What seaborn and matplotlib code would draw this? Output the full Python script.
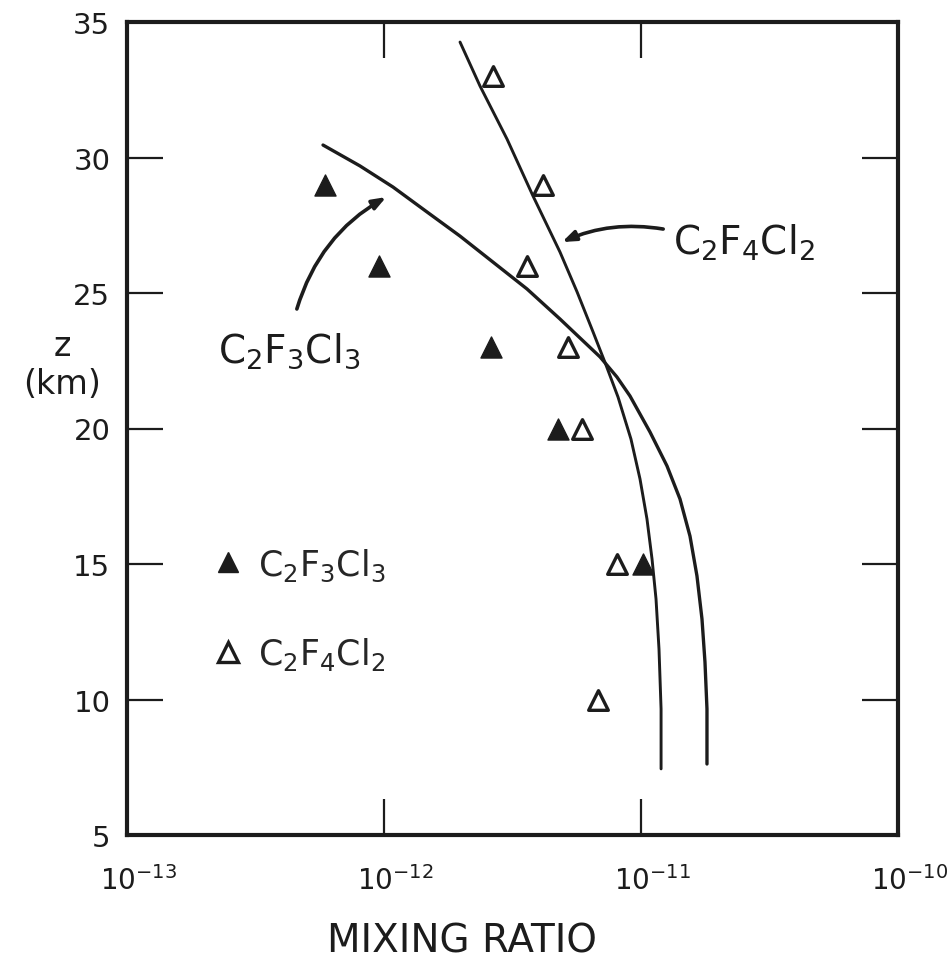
import pandas as pd
import seaborn as sns
import matplotlib.pyplot as plt
from matplotlib.lines import Line2D
from matplotlib.ticker import FixedLocator, NullLocator
from matplotlib.transforms import ScaledTranslation

sns.set_style('ticks')
plt.rcParams['font.family'] = ['DejaVu Sans']
plt.rcParams['mathtext.fontset'] = 'dejavusans'

ink = '#1c1c1c'

# model profiles (altitude km, mixing ratio)
c2f3cl3_z = [30.46, 29.69, 28.91, 27.99, 27.10, 26.14, 25.15, 24.04, 23.34, 22.64, 21.90,
             21.20, 19.87, 18.62, 17.40, 16.03, 14.56, 12.97, 11.38, 9.65, 7.62]
c2f3cl3_mr = [5.79e-13, 8.06e-13, 1.084e-12, 1.47e-12, 1.976e-12, 2.655e-12, 3.60e-12,
              4.84e-12, 5.79e-12, 6.93e-12, 8.06e-12, 9.06e-12, 1.084e-11, 1.262e-11,
              1.418e-11, 1.551e-11, 1.651e-11, 1.727e-11, 1.774e-11, 1.806e-11, 1.806e-11]
c2f4cl2_z = [34.26, 32.64, 30.68, 28.58, 26.51, 25.04, 23.56, 22.34, 21.16, 19.61, 18.14,
             16.66, 15.18, 13.71, 11.86, 9.65, 7.44]
c2f4cl2_mr = [1.976e-12, 2.363e-12, 3.011e-12, 3.80e-12, 4.84e-12, 5.64e-12, 6.51e-12,
              7.31e-12, 8.14e-12, 9.14e-12, 9.91e-12, 1.055e-11, 1.104e-11, 1.144e-11,
              1.175e-11, 1.197e-11, 1.197e-11]

# measured points
obs_c2f3cl3_z = [29, 26, 23, 20, 15]
obs_c2f3cl3_mr = [5.9e-13, 9.6e-13, 2.6e-12, 4.75e-12, 1.02e-11]
obs_c2f4cl2_z = [33, 29, 26, 23, 20, 15, 10]
obs_c2f4cl2_mr = [2.65e-12, 4.15e-12, 3.6e-12, 5.2e-12, 5.9e-12, 8.05e-12, 6.8e-12]

x_ticks = [1e-13, 1e-12, 1e-11, 1e-10]
x_ticklabels = [r'$10^{-13}$', r'$10^{-12}$', r'$10^{-11}$', r'$10^{-10}$']
y_ticks = [5, 10, 15, 20, 25, 30, 35]

lbl_113 = r'C$_2$F$_3$Cl$_3$'
lbl_114 = r'C$_2$F$_4$Cl$_2$'

fig = plt.figure(figsize=(9.51, 9.62), dpi=100)
ax = fig.add_axes([127 / 951, 1 - 836 / 962, 771 / 951, 813 / 962])
ax.set_xscale('log')

# curves
sns.lineplot(x=c2f3cl3_mr, y=c2f3cl3_z, sort=False, estimator=None, orient='y',
             color=ink, lw=2.4, ax=ax)
sns.lineplot(x=c2f4cl2_mr, y=c2f4cl2_z, sort=False, estimator=None, orient='y',
             color=ink, lw=2.1, ax=ax)

# data points
sns.scatterplot(x=obs_c2f3cl3_mr, y=obs_c2f3cl3_z, marker='^', s=230,
                color=ink, edgecolor=ink, linewidth=1, zorder=5, ax=ax)
sns.scatterplot(x=obs_c2f4cl2_mr, y=obs_c2f4cl2_z, marker='^', s=200,
                facecolor='white', edgecolor=ink, linewidth=2.4, zorder=5, ax=ax)

ax.set_xlim(1e-13, 1e-10)
ax.set_ylim(5, 35)
ax.xaxis.set_major_locator(FixedLocator(x_ticks))
ax.xaxis.set_minor_locator(NullLocator())
ax.set_xticklabels(x_ticklabels)
ax.set_yticks(y_ticks)

for sp in ax.spines.values():
    sp.set_visible(True)
    sp.set_linewidth(3)
    sp.set_color(ink)

ax.tick_params(axis='both', which='major', direction='in', length=26, width=1.6,
               top=True, right=True, labelsize=21, color=ink, labelcolor=ink)
ax.tick_params(axis='x', pad=22, labelsize=20)
ax.tick_params(axis='y', pad=12)
for lab in ax.get_xticklabels():
    lab.set_transform(lab.get_transform() + ScaledTranslation(8 / 72, 0, fig.dpi_scale_trans))

ax.set_xlabel('MIXING RATIO', fontsize=28, color=ink, va='baseline')
ax.xaxis.set_label_coords(0.434, -0.143)
ax.set_ylabel('z\n(km)', fontsize=24, rotation=0, ha='center', va='center',
              color=ink, linespacing=1.2)
ax.yaxis.set_label_coords(-0.084, 0.579)

# labels with arrows
ax.text(2.26e-13, 22.45, lbl_113, fontsize=28, ha='left', va='baseline', color=ink)
ax.annotate('', xy=(1.02e-12, 28.54), xytext=(4.58e-13, 24.41),
            arrowprops=dict(arrowstyle='-|>,head_length=0.8,head_width=0.3', color=ink,
                            lw=2.6, shrinkA=0, shrinkB=0,
                            connectionstyle='arc3,rad=-0.2'))
ax.text(1.33e-11, 26.44, lbl_114, fontsize=28, ha='left', va='baseline', color=ink)
ax.annotate('', xy=(4.93e-12, 26.88), xytext=(1.22e-11, 27.36),
            arrowprops=dict(arrowstyle='-|>,head_length=0.8,head_width=0.3', color=ink,
                            lw=2.6, shrinkA=0, shrinkB=0,
                            connectionstyle='arc3,rad=0.15'))

handles = [
    Line2D([], [], marker='^', ls='none', ms=15, mfc=ink, mec=ink),
    Line2D([], [], marker='^', ls='none', ms=14, mfc='white', mec=ink, mew=2.4),
]
ax.legend(handles, [lbl_113, lbl_114], loc='center left', bbox_to_anchor=(0.109, 0.278),
          frameon=False, fontsize=25, handlelength=1.0, handletextpad=0.35,
          labelspacing=1.5, borderpad=0, borderaxespad=0)

fig.savefig('out.png', dpi=100, facecolor='white')
